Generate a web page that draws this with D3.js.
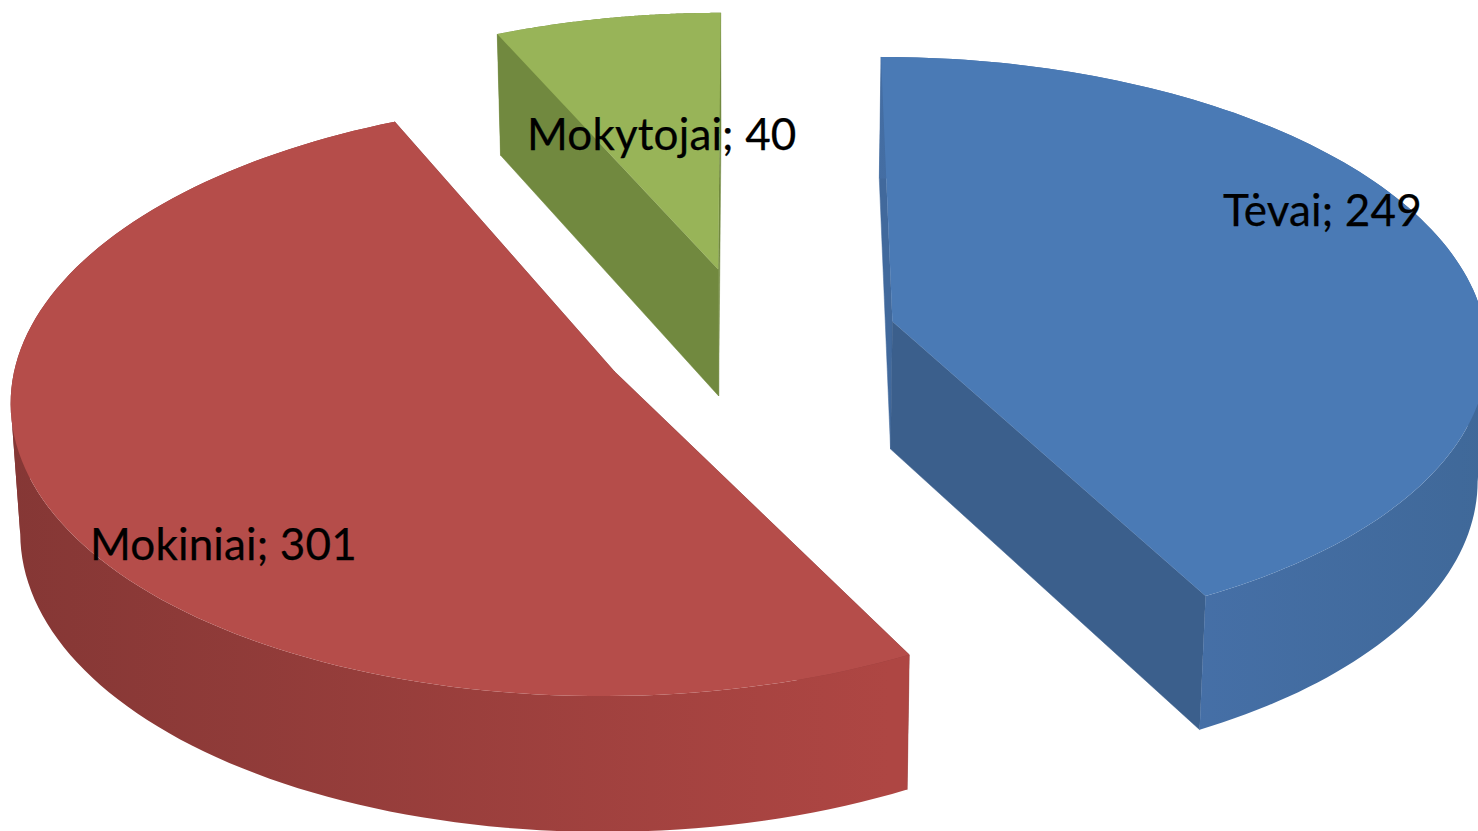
<!DOCTYPE html>
<html>
<head>
<meta charset="utf-8">
<script src="https://cdn.jsdelivr.net/npm/d3@7"></script>
<style>
  html, body { margin: 0; padding: 0; background: #fff; overflow: hidden; }
</style>
</head>
<body>
<div id="chart"></div>
<script>
// Data
const categories = ["Tėvai", "Mokiniai", "Mokytojai"];
const values     = [249, 301, 40];

// Colours per slice
const TOP_COLORS  = ["#4a7ab5", "#b54d4a", "#98b458"];
const CUT_START   = ["#41699c", "#8f3a38", "#71893f"];
const CUT_END     = ["#3b5f8c", "#8f3a38", "#71893f"];
const WALL_DARK   = ["#3f6898", "#853735", "#71893f"];
const WALL_LIGHT  = ["#4670a8", "#ae4643", "#71893f"];
const WALL_FAR    = ["#3f6898", "#ae4643", "#71893f"];

const W = 1478, H = 831;

// Perspective set-up of the tilted pie
const RADIUS   = 580;
const EXPLODE  = 145;
const VANISH_X = 749;
const HORIZON  = -3000;
const GROUND_Y = 339;
const X_SCALE  = 1.025;
const PERSP    = 0.00015;
const THICK    = 128;
const FOOT     = 0.987;   // bottom edge pulls in toward VANISH_X

const svg = d3.select("#chart").append("svg")
  .attr("width", W).attr("height", H)
  .style("display", "block");
const defs = svg.append("defs");

const pie = d3.pie().sort(null).startAngle(0).endAngle(2 * Math.PI);
const arcs = pie(values);

function project(x, z) {
  const w = 1 + PERSP * z;
  return [
    VANISH_X + x * X_SCALE / w,
    HORIZON + (GROUND_Y - HORIZON) / w,
    w
  ];
}
function foot(p) {
  return [VANISH_X + (p[0] - VANISH_X) * FOOT, p[1] + THICK / Math.pow(p[2], 0.58), p[2]];
}

const line = d3.line();
const xy = q => [q[0], q[1]];

// Slice centre + point on rim
function slicePoint(d, ang, r) {
  const mid = (d.startAngle + d.endAngle) / 2;
  const x = EXPLODE * Math.sin(mid) + r * Math.sin(ang);
  const z = EXPLODE * Math.cos(mid) + r * Math.cos(ang);
  return project(x, z);
}

function drawSlice(d, i) {
  const g = svg.append("g").attr("class", "slice-" + i);
  const span = d.endAngle - d.startAngle;
  const steps = d3.range(0, 1.0001, 1 / 120).map(t => d.startAngle + t * span);
  const rim = steps.map(a => slicePoint(d, a, RADIUS));
  const apex = slicePoint(d, 0, 0);

  // cut faces
  [[rim[0], CUT_START[i]], [rim[rim.length - 1], CUT_END[i]]].forEach(([p, c]) => {
    g.append("path")
      .attr("d", line([apex, p, foot(p), foot(apex)].map(xy)) + "Z")
      .attr("fill", c).attr("stroke", c).attr("stroke-width", 0.5);
  });

  // outer wall, darker toward the left
  const grad = defs.append("linearGradient")
    .attr("id", "wall-" + i)
    .attr("gradientUnits", "userSpaceOnUse")
    .attr("x1", apex[0] - RADIUS * 1.05).attr("y1", 0)
    .attr("x2", apex[0] + RADIUS * 1.05).attr("y2", 0);
  [[0, WALL_DARK[i]], [0.725, WALL_LIGHT[i]], [1, WALL_FAR[i]]].forEach(([o, c]) => {
    grad.append("stop").attr("offset", o).attr("stop-color", c);
  });
  // split at the left and right silhouette so each piece is a simple polygon
  const cuts = [0, d3.leastIndex(rim, (a, b) => a[0] - b[0]),
                d3.greatestIndex(rim, q => q[0]), rim.length - 1]
    .sort((a, b) => a - b);
  d3.pairs(cuts).forEach(([a, b]) => {
    if (a === b) return;
    const seg = rim.slice(a, b + 1);
    const wall = seg.concat(seg.slice().reverse().map(foot)).map(xy);
    g.append("path")
      .attr("d", line(wall) + "Z")
      .attr("fill", `url(#wall-${i})`);
  });

  // top face
  g.append("path")
    .attr("d", line([apex].concat(rim).map(xy)) + "Z")
    .attr("fill", TOP_COLORS[i]);
}

// Back to front
[2, 0, 1].forEach(i => drawSlice(arcs[i], i));

// Labels
const LABEL_POS = [[1223, 226], [90, 560], [527, 150]];
svg.selectAll(".label").data(categories).join("text")
  .attr("class", "label")
  .attr("x", (d, i) => LABEL_POS[i][0])
  .attr("y", (d, i) => LABEL_POS[i][1])
  .attr("font-family", "Lato, 'Open Sans', sans-serif")
  .attr("font-size", "44px")
  .attr("letter-spacing", "0.15px")
  .attr("fill", "#000")
  .attr("stroke", "#000").attr("stroke-width", 0.25)
  .text((d, i) => `${d}; ${values[i]}`);
</script>
</body>
</html>
